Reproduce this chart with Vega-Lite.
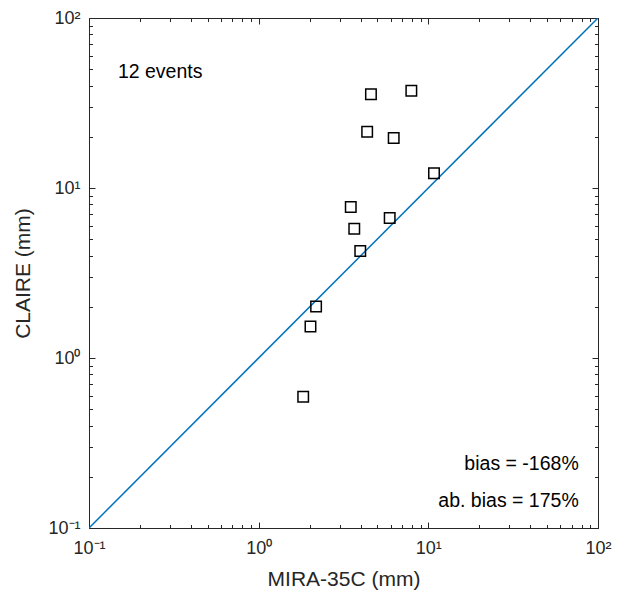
{
  "$schema": "https://vega.github.io/schema/vega-lite/v6.json",
  "width": 509,
  "height": 510,
  "autosize": {"type": "none"},
  "padding": {"left": 89, "top": 18, "right": 26, "bottom": 66},
  "background": "white",
  "config": {
    "font": "Liberation Sans",
    "view": {"stroke": "#262626", "strokeWidth": 1},
    "axis": {
      "grid": false,
      "domainColor": "#262626",
      "tickColor": "#262626",
      "labelColor": "#262626",
      "titleColor": "#262626",
      "labelFont": "Liberation Sans",
      "titleFont": "Liberation Sans",
      "titleFontWeight": "normal",
      "labelFontSize": 18,
      "titleFontSize": 21,
      "labelOverlap": false,
      "labelFlush": false
    }
  },
  "datasets": {
    "events": [
      {"mira": 4.59, "claire": 35.6},
      {"mira": 7.94, "claire": 37.3},
      {"mira": 4.36, "claire": 21.4},
      {"mira": 6.25, "claire": 19.7},
      {"mira": 10.8, "claire": 12.2},
      {"mira": 3.49, "claire": 7.73},
      {"mira": 5.92, "claire": 6.66},
      {"mira": 3.66, "claire": 5.76},
      {"mira": 3.97, "claire": 4.26},
      {"mira": 2.18, "claire": 2.01},
      {"mira": 2.02, "claire": 1.53},
      {"mira": 1.83, "claire": 0.592}
    ],
    "oneToOne": [
      {"mira": 0.1, "claire": 0.1},
      {"mira": 100, "claire": 100}
    ],
    "notes": [
      {"mira": 0.148, "claire": 48, "label": "12 events", "side": "left"},
      {"mira": 77, "claire": 0.238, "label": "bias = -168%", "side": "right"},
      {"mira": 77, "claire": 0.144, "label": "ab. bias = 175%", "side": "right"}
    ]
  },
  "layer": [
    {
      "data": {"name": "oneToOne"},
      "mark": {"type": "line", "color": "#0072BD", "strokeWidth": 1.5, "clip": true},
      "encoding": {
        "x": {
          "field": "mira", "type": "quantitative",
          "scale": {"type": "log", "domain": [0.1, 100], "nice": false},
          "axis": {
            "orient": "top", "labels": false, "title": null, "domain": false,
            "values": [0.1,0.2,0.3,0.4,0.5,0.6,0.7,0.8,0.9,1,2,3,4,5,6,7,8,9,10,20,30,40,50,60,70,80,90,100],
            "tickSize": {"condition": {"test": "indexof([0.1,1,10,100], datum.value) >= 0", "value": -6}, "value": -3.5}
          }
        },
        "y": {
          "field": "claire", "type": "quantitative",
          "scale": {"type": "log", "domain": [0.1, 100], "nice": false},
          "axis": {
            "orient": "right", "labels": false, "title": null, "domain": false,
            "values": [0.1,0.2,0.3,0.4,0.5,0.6,0.7,0.8,0.9,1,2,3,4,5,6,7,8,9,10,20,30,40,50,60,70,80,90,100],
            "tickSize": {"condition": {"test": "indexof([0.1,1,10,100], datum.value) >= 0", "value": -6}, "value": -3.5}
          }
        }
      }
    },
    {
      "data": {"name": "events"},
      "mark": {"type": "point", "shape": "square", "filled": false, "stroke": "#000000", "strokeWidth": 1.5, "size": 110, "opacity": 1},
      "encoding": {
        "x": {
          "field": "mira", "type": "quantitative",
          "axis": {
            "orient": "bottom", "title": "MIRA-35C (mm)", "domain": false,
            "values": [0.1,0.2,0.3,0.4,0.5,0.6,0.7,0.8,0.9,1,2,3,4,5,6,7,8,9,10,20,30,40,50,60,70,80,90,100],
            "labelExpr": "datum.value == 0.1 ? '10⁻¹' : datum.value == 1 ? '10⁰' : datum.value == 10 ? '10¹' : datum.value == 100 ? '10²' : ''",
            "tickSize": {"condition": {"test": "indexof([0.1,1,10,100], datum.value) >= 0", "value": -6}, "value": -3.5},
            "labelPadding": 17,
            "titlePadding": 9
          }
        },
        "y": {
          "field": "claire", "type": "quantitative",
          "axis": {
            "orient": "left", "title": "CLAIRE (mm)", "domain": false,
            "values": [0.1,0.2,0.3,0.4,0.5,0.6,0.7,0.8,0.9,1,2,3,4,5,6,7,8,9,10,20,30,40,50,60,70,80,90,100],
            "labelExpr": "datum.value == 0.1 ? '10⁻¹' : datum.value == 1 ? '10⁰' : datum.value == 10 ? '10¹' : datum.value == 100 ? '10²' : ''",
            "tickSize": {"condition": {"test": "indexof([0.1,1,10,100], datum.value) >= 0", "value": -6}, "value": -3.5},
            "labelPadding": 15,
            "titlePadding": 14
          }
        }
      }
    },
    {
      "data": {"name": "notes"},
      "transform": [{"filter": "datum.side == 'left'"}],
      "mark": {"type": "text", "align": "left", "baseline": "middle", "fontSize": 19.5, "color": "#000000"},
      "encoding": {
        "x": {"field": "mira", "type": "quantitative", "axis": null},
        "y": {"field": "claire", "type": "quantitative", "axis": null},
        "text": {"field": "label"}
      }
    },
    {
      "data": {"name": "notes"},
      "transform": [{"filter": "datum.side == 'right'"}],
      "mark": {"type": "text", "align": "right", "baseline": "middle", "fontSize": 19.5, "color": "#000000"},
      "encoding": {
        "x": {"field": "mira", "type": "quantitative", "axis": null},
        "y": {"field": "claire", "type": "quantitative", "axis": null},
        "text": {"field": "label"}
      }
    }
  ]
}
